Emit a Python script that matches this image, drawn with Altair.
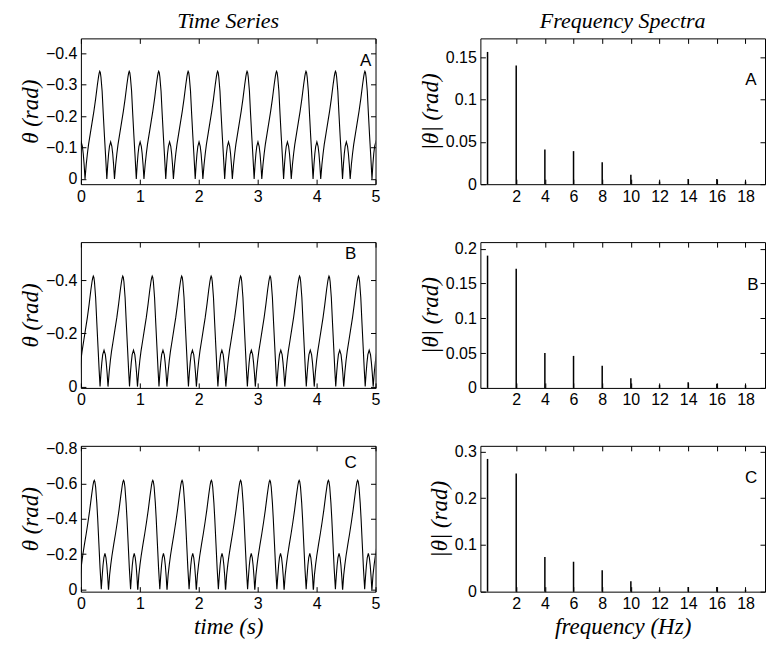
import altair as alt
import pandas as pd

# ---------------- data ----------------
# Time series: one cycle per panel (phase in s from the valley before the big rise,
# theta in rad) and the start times of the cycles seen in the picture.
phase_A = [0.00, 0.02, 0.04, 0.06, 0.09, 0.12, 0.15, 0.18, 0.21, 0.23, 0.24, 0.25, 0.26, 0.27,
           0.29, 0.31, 0.33, 0.35, 0.37, 0.385, 0.40, 0.415, 0.435, 0.455, 0.47, 0.485, 0.50]
theta_A = [0.0, -0.045, -0.08, -0.11, -0.145, -0.18, -0.215, -0.255, -0.30, -0.327, -0.337, -0.343,
           -0.339, -0.325, -0.28, -0.205, -0.135, -0.07, 0.0, -0.045, -0.08, -0.104, -0.118, -0.104,
           -0.08, -0.045, 0.0]
starts_A = [-0.43, 0.07, 0.57, 1.07, 1.57, 2.07, 2.57, 3.07, 3.57, 4.07, 4.57]

phase_B = [0.00, 0.02, 0.04, 0.06, 0.09, 0.12, 0.15, 0.18, 0.21, 0.23, 0.24, 0.25, 0.26, 0.27,
           0.29, 0.31, 0.33, 0.35, 0.365, 0.38, 0.395, 0.41, 0.4325, 0.455, 0.47, 0.485, 0.50]
theta_B = [0.0, -0.055, -0.098, -0.133, -0.175, -0.218, -0.26, -0.31, -0.365, -0.396, -0.408, -0.415,
           -0.41, -0.394, -0.335, -0.24, -0.15, -0.06, 0.0, -0.05, -0.09, -0.12, -0.137, -0.12,
           -0.09, -0.05, 0.0]
starts_B = [-0.04, 0.46, 0.96, 1.46, 1.96, 2.46, 2.96, 3.46, 3.96, 4.46, 4.96]

phase_C = [0.00, 0.02, 0.04, 0.06, 0.09, 0.12, 0.15, 0.18, 0.21, 0.235, 0.247, 0.257, 0.267, 0.28,
           0.30, 0.315, 0.335, 0.355, 0.376, 0.39, 0.405, 0.42, 0.438, 0.455, 0.47, 0.485, 0.50]
theta_C = [0.0, -0.08, -0.14, -0.19, -0.255, -0.315, -0.38, -0.45, -0.53, -0.59, -0.61, -0.618,
           -0.61, -0.58, -0.49, -0.40, -0.26, -0.12, 0.0, -0.07, -0.135, -0.18, -0.203, -0.18,
           -0.135, -0.07, 0.0]
starts_C = [-0.03, 0.467, 0.963, 1.46, 1.957, 2.453, 2.95, 3.447, 3.943, 4.44, 4.937]

# Frequency spectra (peak heights)
freq = [0, 2, 4, 6, 8, 10, 12, 14, 16, 18]
amp_A = [0.156, 0.140, 0.041, 0.039, 0.026, 0.011, 0.003, 0.006, 0.006, 0.003]
amp_B = [0.190, 0.171, 0.050, 0.046, 0.032, 0.014, 0.004, 0.008, 0.006, 0.004]
amp_C = [0.284, 0.253, 0.074, 0.064, 0.046, 0.022, 0.004, 0.010, 0.010, 0.004]

time_ticks = [0, 1, 2, 3, 4, 5]
freq_ticks = [2, 4, 6, 8, 10, 12, 14, 16, 18]
ts_yticks_A = [-0.4, -0.3, -0.2, -0.1, 0]
ts_yticks_B = [-0.4, -0.2, 0]
ts_yticks_C = [-0.8, -0.6, -0.4, -0.2, 0]
sp_yticks_A = [0, 0.05, 0.1, 0.15]
sp_yticks_B = [0, 0.05, 0.1, 0.15, 0.2]
sp_yticks_C = [0, 0.1, 0.2, 0.3]

SANS = "Liberation Sans"
SERIF = "Liberation Serif"
W_TS, W_SP, H = 295, 285, 146


def ts_frame(phase, theta, starts):
    rows = []
    for s in starts:
        for p, v in zip(phase, theta):
            rows.append({"t": round(s + p, 4), "theta": v})
    return pd.DataFrame(rows)


def ax(orient, values, labels=True):
    return alt.Axis(orient=orient, values=values, tickSize=5, offset=-5, domain=False,
                    grid=False, labels=labels, format="~g", labelFlush=False)


def label_layer(text, px, py):
    return alt.Chart(pd.DataFrame({"lab": [text]})).mark_text(
        font=SANS, fontSize=17, color="black", align="center", baseline="middle"
    ).encode(x=alt.value(px), y=alt.value(py), text="lab:N")


def ts_panel(df, ydom, yticks, lab, lx, ly, xtitle=None, title=None):
    xs = alt.Scale(domain=[0, 5], nice=False, zero=False)
    ys = alt.Scale(domain=ydom, reverse=True, nice=False, zero=False)
    line = alt.Chart(df).mark_line(color="black", strokeWidth=1.1, clip=True).encode(
        x=alt.X("t:Q", scale=xs, axis=ax("bottom", time_ticks), title=xtitle),
        y=alt.Y("theta:Q", scale=ys, axis=ax("left", yticks), title="θ (rad)"),
    )
    frame = alt.Chart(df).mark_line(opacity=0).encode(
        x=alt.X("t:Q", scale=xs, axis=ax("top", time_ticks, False), title=None),
        y=alt.Y("theta:Q", scale=ys, axis=ax("right", yticks, False), title=None),
    )
    ch = alt.layer(line, frame, label_layer(lab, lx, ly)).resolve_axis(
        x="independent", y="independent").properties(width=W_TS, height=H)
    if title:
        ch = ch.properties(title=title)
    return ch


def sp_panel(amp, ydom, yticks, lab, lx, ly, xtitle=None, title=None):
    df = pd.DataFrame({"f": freq, "a": amp})
    xs = alt.Scale(domain=[-0.5, 19.36], nice=False, zero=False)
    ys = alt.Scale(domain=ydom, nice=False, zero=False)
    spikes = alt.Chart(df).mark_rule(color="black", strokeWidth=1.5).encode(
        x=alt.X("f:Q", scale=xs, axis=ax("bottom", freq_ticks), title=xtitle),
        y=alt.Y("a:Q", scale=ys, axis=ax("left", yticks), title="|θ| (rad)"),
        y2=alt.datum(0),
    )
    frame = alt.Chart(df).mark_point(opacity=0).encode(
        x=alt.X("f:Q", scale=xs, axis=ax("top", freq_ticks, False), title=None),
        y=alt.Y("a:Q", scale=ys, axis=ax("right", yticks, False), title=None),
    )
    ch = alt.layer(spikes, frame, label_layer(lab, lx, ly)).resolve_axis(
        x="independent", y="independent").properties(width=W_SP, height=H)
    if title:
        ch = ch.properties(title=title)
    return ch


def col_title(text):
    return alt.TitleParams(text, font=SERIF, fontStyle="italic", fontWeight="normal",
                           fontSize=22, color="black", offset=5)


tsA = ts_panel(ts_frame(phase_A, theta_A, starts_A), [-0.448, 0.017], ts_yticks_A, "A", 285, 23,
               title=col_title("Time Series"))
tsB = ts_panel(ts_frame(phase_B, theta_B, starts_B), [-0.543, 0.005], ts_yticks_B, "B", 270, 12)
tsC = ts_panel(ts_frame(phase_C, theta_C, starts_C), [-0.8135, 0.0135], ts_yticks_C, "C", 270, 17,
               xtitle="time (s)")

spA = sp_panel(amp_A, [0, 0.172], sp_yticks_A, "A", 271, 42, title=col_title("Frequency Spectra"))
spB = sp_panel(amp_B, [0, 0.2094], sp_yticks_B, "B", 273, 43)
spC = sp_panel(amp_C, [0, 0.312], sp_yticks_C, "C", 271, 32, xtitle="frequency (Hz)")

chart = alt.concat(
    tsA, spA, tsB, spB, tsC, spC, columns=2, bounds="flush",
    spacing={"row": 58, "column": 105},
).properties(
    padding={"left": 10, "top": 1, "right": 5, "bottom": 2}, background="white"
).configure_view(stroke="black", strokeWidth=1).configure_axis(
    labelFont=SANS, labelFontSize=16, labelColor="black", tickColor="black", tickWidth=1,
    titleFont=SERIF, titleFontStyle="italic", titleFontWeight="normal", titleFontSize=23,
    titleColor="black", labelPadding=4
).configure_axisX(titlePadding=4).configure_axisY(titlePadding=3)

chart.save("out.html", embed_options={"renderer": "svg", "actions": False})
